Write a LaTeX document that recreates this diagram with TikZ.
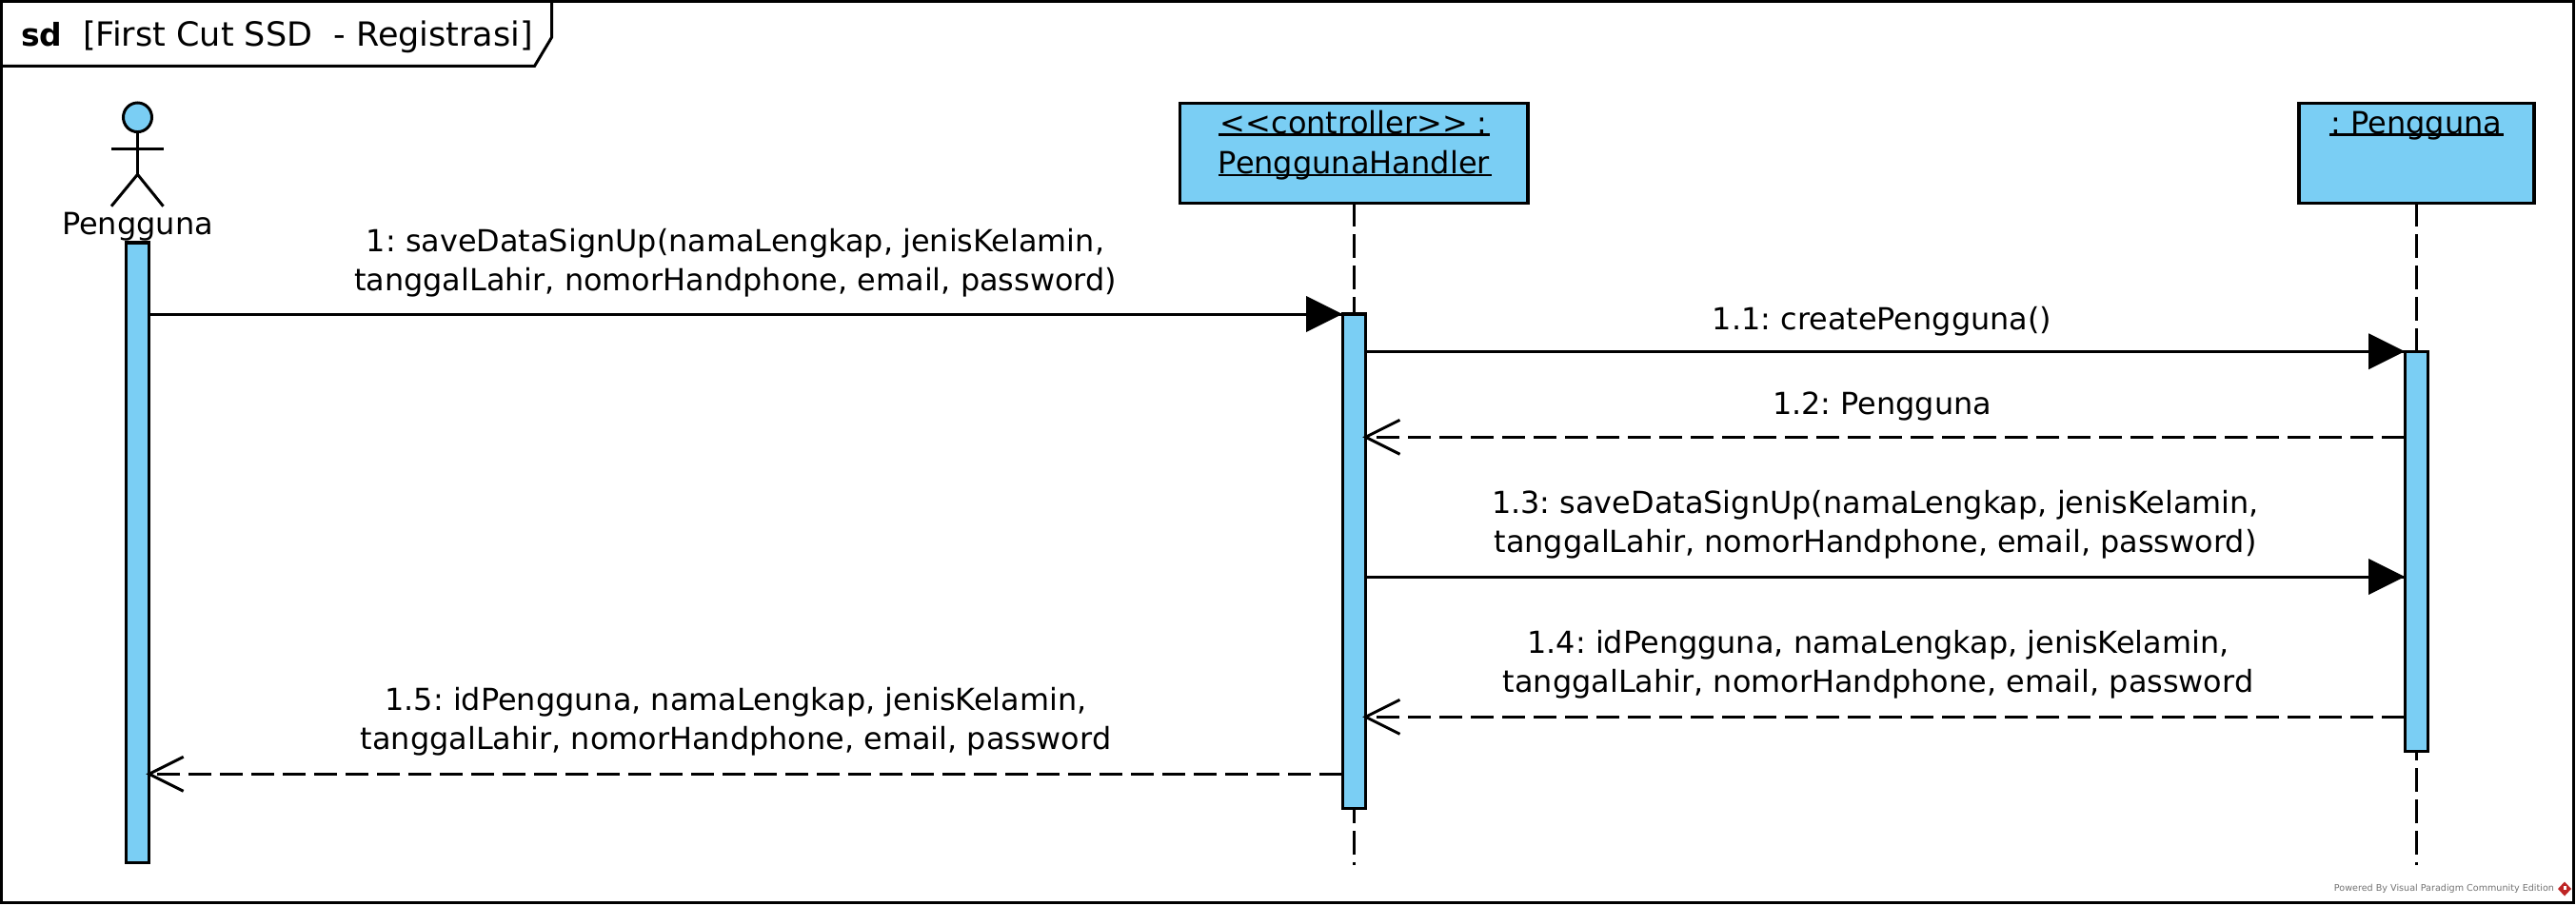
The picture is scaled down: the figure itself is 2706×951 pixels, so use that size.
\documentclass[tikz,border=0pt]{standalone}
\usepackage{fontspec}
\setmainfont{DejaVu Sans}
\frenchspacing
\definecolor{vpblue}{HTML}{7ACEF4}
\tikzset{
  ln/.style={line width=3pt,draw=black},
  bar/.style={rectangle,draw=black,line width=3.2pt,fill=vpblue,inner sep=0pt,outer sep=0pt,minimum width=24.4pt,anchor=north},
  box/.style={rectangle,draw=black,line width=3.2pt,fill=vpblue,inner sep=0pt,outer sep=0pt,minimum height=105pt,anchor=north west},
  life/.style={line width=3pt,dash pattern=on 24.5pt off 8.5pt},
  call/.style={line width=3pt},
  ret/.style={line width=3pt,dash pattern=on 24.5pt off 8.5pt},
  txt/.style={font=\fontsize{31.9pt}{41pt}\selectfont,inner sep=0pt,outer sep=0pt,align=center,text=black},
  one/.style={font=\fontsize{32pt}{36pt}\selectfont,inner sep=0pt,outer sep=0pt,anchor=base},
}
\newcommand{\solidhead}[1]{\fill[black] (#1) -- ++(-38pt,-19pt) -- ++(0,38pt) -- cycle;}
\newcommand{\openheadL}[1]{\draw[line width=3pt,line join=miter] ([shift={(36pt,-18pt)}]#1) -- (#1) -- ([shift={(36pt,18pt)}]#1);}
\begin{document}
\begin{tikzpicture}[x=1pt,y=-1pt]
\useasboundingbox (0,0) rectangle (2706,951);
\fill[white] (0,0) rectangle (2706,951);
% frame
\node[rectangle,draw=black,line width=3pt,inner sep=0pt,outer sep=0pt,minimum width=2701.5pt,minimum height=946.5pt,anchor=north west] (frame) at (1.5,1.5) {};
\draw[ln,line join=miter] (frame.north west |- 0,69.3) -- (561.6,69.3) -- (579.5,39.3) -- (579.5,1.5);
\node[one,anchor=base west,font=\bfseries\fontsize{33pt}{36pt}\selectfont] (sdk) at (22,48) {sd};
\node[one,anchor=base west,font=\fontsize{35pt}{36pt}\selectfont] (sdt) at (87,48) {[First Cut SSD\ \ - Registrasi]};
% actor
\draw[ln,fill=vpblue] (144.5,123.3) ellipse (15 and 15.3);
\draw[ln] (144.5,138.6) -- (144.5,183.3);
\draw[ln] (117,156) -- (171.5,156);
\draw[ln] (117,216.7) -- (144.5,183.3) -- (171.5,216.7);
\node[one] (actor) at (144.5,246) {Pengguna};
% lifelines
\node[box,minimum width=365.7pt] (bH) at (1239.3,108.3) {};
\node[box,minimum width=247pt] (bP) at (2415,108.3) {};
\coordinate (eH) at (1422.3,909);
\coordinate (eP) at (2538.3,909);
\draw[life] (bH.south -| eH) -- (eH);
\draw[life] (bP.south -| eP) -- (eP);
% activations
\node[bar,minimum height=651.7pt] (aA) at (144.5,255) {};
\node[bar,minimum height=519.3pt] (aH) at (1422.3,330) {};
\node[bar,minimum height=420pt] (aP) at (2538.3,369.3) {};
% object titles
\node[one] (tH1) at (1422.3,140.5) {<{}<controller>{}> :};
\node[one] (tH2) at (1422.3,182.5) {PenggunaHandler};
\node[one] (tP) at (2538.3,140.5) {: Pengguna};
\draw[line width=2.6pt] (1280,141.7) -- (1565,141.7);
\draw[line width=2.6pt] (1280,184) -- (1567,184);
\draw[line width=2.6pt] (2447,141.7) -- (2630,141.7);
% messages
\draw[call] (aA.east |- 0,330) -- (aH.west |- 0,330);
\solidhead{aH.west |- 0,330}
\draw[call] (aH.east |- 0,369.3) -- (aP.west |- 0,369.3);
\solidhead{aP.west |- 0,369.3}
\draw[ret] (aP.west |- 0,459.3) -- (aH.east |- 0,459.3);
\openheadL{aH.east |- 0,459.3}
\draw[call] (aH.east |- 0,606) -- (aP.west |- 0,606);
\solidhead{aP.west |- 0,606}
\draw[ret] (aP.west |- 0,753.3) -- (aH.east |- 0,753.3);
\openheadL{aH.east |- 0,753.3}
\draw[ret] (aH.west |- 0,813.3) -- (aA.east |- 0,813.3);
\openheadL{aA.east |- 0,813.3}
% labels
\node[txt] (m1) at (772.5,276) {1: saveDataSignUp(namaLengkap, jenisKelamin,\\tanggalLahir, nomorHandphone, email, password)};
\node[txt] (m11) at (1977,337.5) {1.1: createPengguna()};
\node[txt] (m12) at (1977,426.5) {1.2: Pengguna};
\node[txt] (m13) at (1970,551.5) {1.3: saveDataSignUp(namaLengkap, jenisKelamin,\\tanggalLahir, nomorHandphone, email, password)};
\node[txt] (m14) at (1973,698.5) {1.4: idPengguna, namaLengkap, jenisKelamin,\\tanggalLahir, nomorHandphone, email, password};
\node[txt] (m15) at (773,758.5) {1.5: idPengguna, namaLengkap, jenisKelamin,\\tanggalLahir, nomorHandphone, email, password};
% footer
\node[inner sep=0pt,outer sep=0pt,text=black!55,font=\fontsize{9.6pt}{11pt}\selectfont,anchor=east] (pw) at (2683,934) {Powered By Visual Paradigm Community Edition};
\fill[red!70!black!85] (2694,926.5) -- (2701,934) -- (2694,941.5) -- (2687,934) -- cycle;
\fill[white] (2692.5,930.5) rectangle (2696,934.5);
\end{tikzpicture}
\end{document}
